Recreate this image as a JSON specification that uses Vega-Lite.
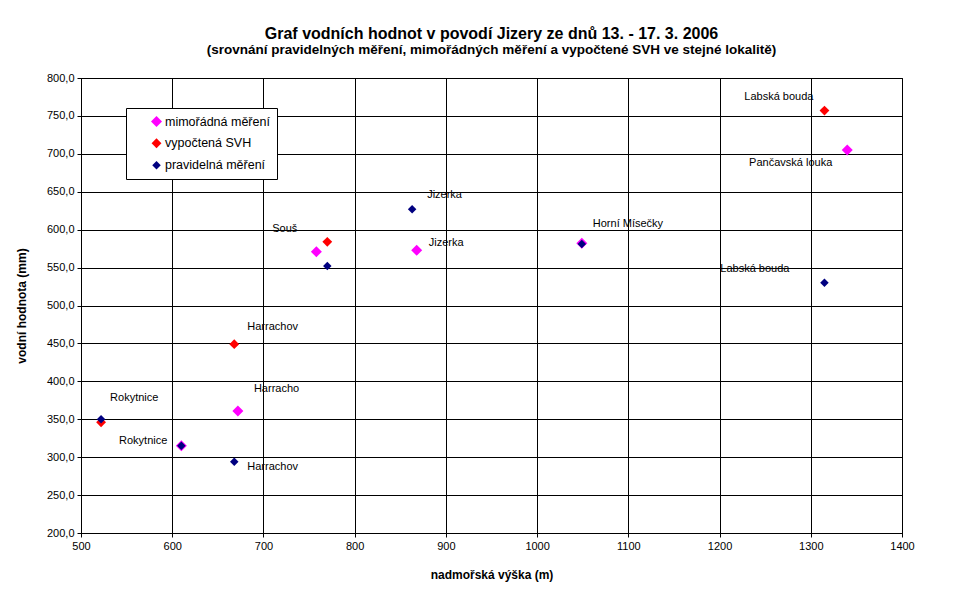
{
  "$schema": "https://vega.github.io/schema/vega-lite/v6.json",
  "width": 821,
  "height": 455,
  "autosize": "none",
  "padding": {"left": 81, "top": 78, "right": 68, "bottom": 71},
  "background": "white",
  "title": {
    "text": "Graf vodních hodnot v povodí Jizery ze dnů 13. - 17. 3. 2006",
    "subtitle": "(srovnání pravidelných měření, mimořádných měření a vypočtené SVH ve stejné lokalitě)",
    "font": "Liberation Sans",
    "fontSize": 16,
    "fontWeight": "bold",
    "subtitleFont": "Liberation Sans",
    "subtitleFontSize": 13.5,
    "subtitleFontWeight": "bold",
    "subtitleColor": "black",
    "color": "black",
    "anchor": "middle",
    "offset": 16,
    "subtitlePadding": 1
  },
  "data": {
    "values": [
      {"series": "mimořádná měření", "x": 610, "y": 315, "lab": "m1", "name": "Rokytnice"},
      {"series": "mimořádná měření", "x": 672, "y": 361, "lab": "m2", "name": "Harracho"},
      {"series": "mimořádná měření", "x": 758, "y": 571, "lab": "m3", "name": "Souš"},
      {"series": "mimořádná měření", "x": 868, "y": 573, "lab": "m4", "name": "Jizerka"},
      {"series": "mimořádná měření", "x": 1049, "y": 582, "lab": "m5", "name": "Horní Mísečky"},
      {"series": "mimořádná měření", "x": 1340, "y": 705, "lab": "m6", "name": "Pančavská louka"},
      {"series": "vypočtená SVH", "x": 522, "y": 346, "lab": "r1", "name": ""},
      {"series": "vypočtená SVH", "x": 668, "y": 449, "lab": "r2", "name": "Harrachov"},
      {"series": "vypočtená SVH", "x": 770, "y": 584, "lab": "r3", "name": ""},
      {"series": "vypočtená SVH", "x": 1315, "y": 757, "lab": "r4", "name": "Labská bouda"},
      {"series": "pravidelná měření", "x": 522, "y": 350, "lab": "n1", "name": "Rokytnice"},
      {"series": "pravidelná měření", "x": 610, "y": 315, "lab": "n2", "name": ""},
      {"series": "pravidelná měření", "x": 668, "y": 294, "lab": "n3", "name": "Harrachov"},
      {"series": "pravidelná měření", "x": 770, "y": 552, "lab": "n4", "name": ""},
      {"series": "pravidelná měření", "x": 863, "y": 627, "lab": "n5", "name": "Jizerka"},
      {"series": "pravidelná měření", "x": 1049, "y": 581, "lab": "n6", "name": ""},
      {"series": "pravidelná měření", "x": 1315, "y": 530, "lab": "n7", "name": "Labská bouda"}
    ]
  },
  "encoding": {
    "x": {
      "field": "x", "type": "quantitative",
      "scale": {"domain": [500, 1400], "nice": false, "zero": false},
      "axis": {"values": [500, 600, 700, 800, 900, 1000, 1100, 1200, 1300, 1400], "format": "d", "labelFlush": false, "title": "nadmořská výška (m)", "titlePadding": 18}
    },
    "y": {
      "field": "y", "type": "quantitative",
      "scale": {"domain": [200, 800], "nice": false, "zero": false},
      "axis": {"values": [200, 250, 300, 350, 400, 450, 500, 550, 600, 650, 700, 750, 800], "labelFlush": false, "title": "vodní hodnota (mm)", "titlePadding": 18,
        "labelExpr": "replace(format(datum.value, '.1f'), '.', ',')"}
    }
  },
  "layer": [
    {
      "mark": {"type": "point", "shape": "diamond", "filled": true, "opacity": 1},
      "encoding": {
        "color": {"field": "series", "type": "nominal",
          "scale": {"domain": ["mimořádná měření", "vypočtená SVH", "pravidelná měření"], "range": ["#FF00FF", "#FF0000", "#000080"]},
          "legend": {"title": null, "orient": "none", "legendX": 45, "legendY": 30,
            "strokeColor": "black", "fillColor": "white", "padding": 7, "rowPadding": 9,
            "symbolOffset": 17, "labelFont": "Liberation Sans", "labelFontSize": 12.5, "labelColor": "black", "labelOffset": 2, "labelLimit": 200}},
        "size": {"field": "series", "type": "nominal",
          "scale": {"domain": ["mimořádná měření", "vypočtená SVH", "pravidelná měření"], "range": [121, 72, 45]}}
      }
    },
    {"transform": [{"filter": "datum.lab == 'n1'"}], "mark": {"type": "text", "align": "left", "dx": 9, "dy": -21}, "encoding": {"text": {"field": "name"}}},
    {"transform": [{"filter": "datum.lab == 'm1'"}], "mark": {"type": "text", "align": "right", "dx": -14, "dy": -5}, "encoding": {"text": {"field": "name"}}},
    {"transform": [{"filter": "datum.lab == 'r2'"}], "mark": {"type": "text", "align": "left", "dx": 13, "dy": -17}, "encoding": {"text": {"field": "name"}}},
    {"transform": [{"filter": "datum.lab == 'm2'"}], "mark": {"type": "text", "align": "left", "dx": 16, "dy": -22}, "encoding": {"text": {"field": "name"}}},
    {"transform": [{"filter": "datum.lab == 'n3'"}], "mark": {"type": "text", "align": "left", "dx": 13, "dy": 5}, "encoding": {"text": {"field": "name"}}},
    {"transform": [{"filter": "datum.lab == 'm3'"}], "mark": {"type": "text", "align": "right", "dx": -19, "dy": -23}, "encoding": {"text": {"field": "name"}}},
    {"transform": [{"filter": "datum.lab == 'n5'"}], "mark": {"type": "text", "align": "left", "dx": 15, "dy": -14}, "encoding": {"text": {"field": "name"}}},
    {"transform": [{"filter": "datum.lab == 'm4'"}], "mark": {"type": "text", "align": "left", "dx": 12, "dy": -7}, "encoding": {"text": {"field": "name"}}},
    {"transform": [{"filter": "datum.lab == 'm5'"}], "mark": {"type": "text", "align": "left", "dx": 11, "dy": -19}, "encoding": {"text": {"field": "name"}}},
    {"transform": [{"filter": "datum.lab == 'n7'"}], "mark": {"type": "text", "align": "right", "dx": -35, "dy": -14}, "encoding": {"text": {"field": "name"}}},
    {"transform": [{"filter": "datum.lab == 'r4'"}], "mark": {"type": "text", "align": "right", "dx": -11, "dy": -14}, "encoding": {"text": {"field": "name"}}},
    {"transform": [{"filter": "datum.lab == 'm6'"}], "mark": {"type": "text", "align": "right", "dx": -15, "dy": 13}, "encoding": {"text": {"field": "name"}}}
  ],
  "config": {
    "view": {"stroke": "black", "strokeWidth": 1},
    "text": {"font": "Liberation Sans", "fontSize": 11, "color": "black", "baseline": "middle"},
    "axis": {
      "gridColor": "black", "gridOpacity": 1, "gridWidth": 1,
      "domainColor": "black", "tickColor": "black", "tickSize": 4,
      "labelFont": "Liberation Sans", "labelFontSize": 11, "labelColor": "black", "labelPadding": 3,
      "titleFont": "Liberation Sans", "titleFontSize": 12, "titleFontWeight": "bold", "titleColor": "black"
    }
  }
}
